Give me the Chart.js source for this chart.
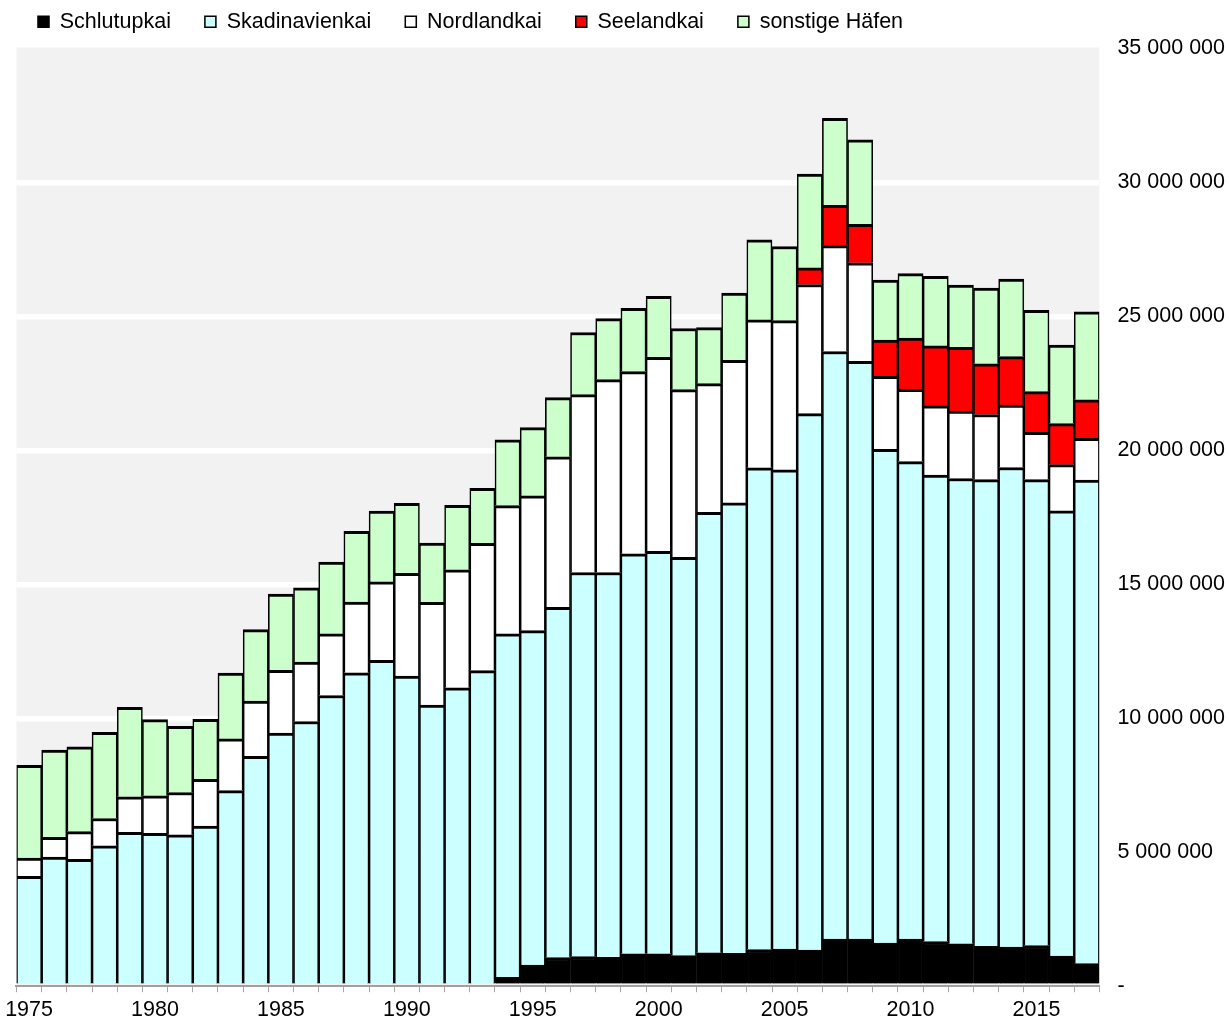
<!DOCTYPE html>
<html>
<head>
<meta charset="utf-8">
<script src="https://cdn.jsdelivr.net/npm/chart.js@4"></script>
<style>
  html, body { margin: 0; padding: 0; background: #fff; }
  #wrap { width: 1229px; height: 1018px; }
</style>
</head>
<body>
<div id="wrap"><canvas id="hafenChart"></canvas></div>
<script>
// Jahre
const years = [];
for (let y = 1975; y <= 2017; y++) years.push(String(y));

// Umschlag in Tonnen je Hafenteil
const schlutupkai = [
  null, null, null, null, null, null, null, null, null, null,
  null, null, null, null, null, null, null, null, null, 330000,
  790000, 1070000, 1110000, 1080000, 1210000, 1210000, 1140000, 1250000, 1230000, 1370000,
  1390000, 1350000, 1760000, 1760000, 1610000, 1760000, 1670000, 1580000, 1490000, 1460000,
  1520000, 1120000, 840000
];
const skandinavienkai = [
  4100000, 4820000, 4740000, 5240000, 5740000, 5710000, 5650000, 5980000, 7300000, 8580000,
  9450000, 9880000, 10850000, 11700000, 12160000, 11580000, 10490000, 11140000, 11780000, 12820000,
  12480000, 13070000, 14330000, 14360000, 14930000, 15020000, 14870000, 16440000, 16810000, 17980000,
  17880000, 20020000, 21930000, 21560000, 18430000, 17820000, 17410000, 17370000, 17420000, 17900000,
  17390000, 16620000, 18050000
];
const nordlandkai = [
  680000, 740000, 1030000, 1020000, 1330000, 1400000, 1580000, 1740000, 1930000, 2060000,
  2340000, 2220000, 2300000, 2640000, 2930000, 3830000, 3840000, 4400000, 4750000, 4790000,
  5030000, 5620000, 6640000, 7200000, 6800000, 7240000, 6260000, 4800000, 5320000, 5520000,
  5570000, 4820000, 3950000, 3680000, 2720000, 2700000, 2580000, 2520000, 2430000, 2330000,
  1760000, 1730000, 1560000
];
const seelandkai = [
  null, null, null, null, null, null, null, null, null, null,
  null, null, null, null, null, null, null, null, null, null,
  null, null, null, null, null, null, null, null, null, null,
  null, 620000, 1510000, 1440000, 1360000, 1910000, 2240000, 2380000, 1890000, 1810000,
  1520000, 1530000, 1440000
];
const sonstigeHaefen = [
  3460000, 3250000, 3160000, 3220000, 3340000, 2840000, 2470000, 2240000, 2460000, 2670000,
  2850000, 2770000, 2680000, 2640000, 2640000, 2610000, 2210000, 2410000, 2050000, 2450000,
  2550000, 2210000, 2320000, 2280000, 2360000, 2280000, 2280000, 2090000, 2510000, 2990000,
  2770000, 3500000, 3240000, 3150000, 2240000, 2410000, 2600000, 2320000, 2830000, 2890000,
  3040000, 2930000, 3280000
];

const yMax = 35000000;
const yStep = 5000000;

const fontFam = "'Liberation Sans', Arial, sans-serif";
const fontSize = 21.5;
const border = { top: 3, left: 1.6, right: 1.6, bottom: 0 };

function ds(label, data, color) {
  return {
    label: label,
    data: data,
    backgroundColor: color,
    borderColor: '#000',
    borderWidth: border,
    borderSkipped: false,
    stack: 'a'
  };
}

// grauer Hintergrund der Zeichenfläche
const plotBg = {
  id: 'plotBg',
  beforeDraw(chart) {
    const a = chart.chartArea;
    const c = chart.ctx;
    c.save();
    c.fillStyle = '#f2f2f2';
    c.fillRect(a.left, a.top - 1, a.right - a.left, a.bottom - a.top + 1);
    c.restore();
  }
};

// Legende etwas nach links/oben schieben
const legendShift = {
  id: 'legendShift',
  afterLayout(chart) {
    chart.legend.left -= 10;
    chart.legend.top -= 6;
  }
};

const ctx = document.getElementById('hafenChart').getContext('2d');
new Chart(ctx, {
  type: 'bar',
  data: {
    labels: years,
    datasets: [
      ds('Schlutupkai', schlutupkai, '#000000'),
      ds('Skadinavienkai', skandinavienkai, '#ccffff'),
      ds('Nordlandkai', nordlandkai, '#ffffff'),
      ds('Seelandkai', seelandkai, '#ff0000'),
      ds('sonstige Häfen', sonstigeHaefen, '#ccffcc')
    ]
  },
  plugins: [plotBg, legendShift],
  options: {
    responsive: true,
    maintainAspectRatio: false,
    animation: false,
    layout: { padding: { left: 14, right: -14, top: -17, bottom: -10 } },
    datasets: {
      bar: { categoryPercentage: 1, barPercentage: 1 }
    },
    plugins: {
      legend: {
        position: 'top',
        align: 'start',
        labels: {
          boxWidth: 11,
          boxHeight: 11,
          padding: 34,
          color: '#000',
          font: { family: fontFam, size: fontSize }
        }
      },
      tooltip: { enabled: false }
    },
    scales: {
      x: {
        stacked: true,
        grid: {
          display: true,
          drawOnChartArea: false,
          drawTicks: true,
          tickLength: 6,
          color: '#a6a6a6',
          offset: true
        },
        border: { display: true, color: '#a0a0a0', width: 2 },
        ticks: {
          autoSkip: false,
          maxRotation: 0,
          padding: 5,
          color: '#000',
          font: { family: fontFam, size: fontSize },
          callback: function (val) {
            const lab = this.getLabelForValue(val);
            return Number(lab) % 5 === 0 ? lab : '';
          }
        }
      },
      y: {
        stacked: true,
        position: 'right',
        min: 0,
        max: yMax,
        border: { display: false },
        grid: {
          drawTicks: false,
          lineWidth: 5.5,
          color: (c) => (c.tick && (c.tick.value === yMax || c.tick.value === 0)) ? 'rgba(0,0,0,0)' : '#ffffff'
        },
        ticks: {
          stepSize: yStep,
          padding: 18,
          color: '#000',
          font: { family: fontFam, size: fontSize },
          callback: function (v) {
            if (v === 0) return '-';
            return String(v).replace(/\B(?=(\d{3})+(?!\d))/g, ' ');
          }
        }
      }
    }
  }
});
</script>
</body>
</html>
